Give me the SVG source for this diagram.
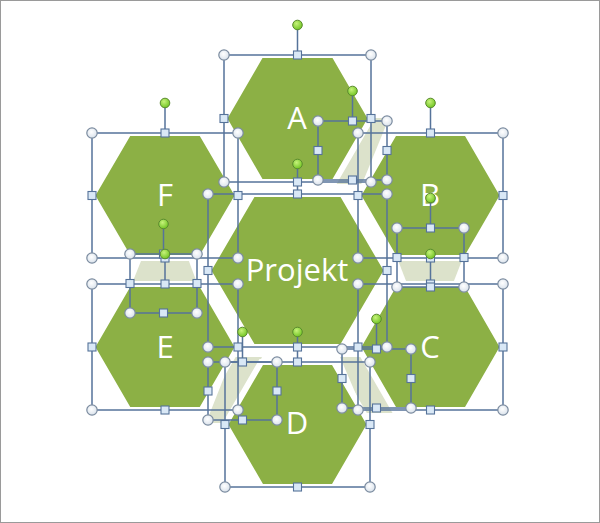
<svg xmlns="http://www.w3.org/2000/svg" xmlns:xlink="http://www.w3.org/1999/xlink" width="600" height="523" viewBox="0 0 600 523">
<defs>
<style>
.hex{fill:#8cb045;stroke:#ffffff;stroke-width:6;stroke-linejoin:miter}
.lite{fill:#dce2cb}
.lbl{font-family:"Open Sans","Noto Sans","DejaVu Sans",sans-serif;fill:#ffffff;text-anchor:middle}
.sel{fill:none;stroke:#56739a;stroke-width:1.5}
.rl{stroke:#56739a;stroke-width:1.5}
</style>
<radialGradient id="gc" cx="0.45" cy="0.4" r="0.7">
<stop offset="0" stop-color="#ffffff"/><stop offset="1" stop-color="#d3dde8"/>
</radialGradient>
<radialGradient id="gg" cx="0.4" cy="0.35" r="0.7">
<stop offset="0" stop-color="#c6f27a"/><stop offset="1" stop-color="#6cc21e"/>
</radialGradient>
<circle id="c" r="5.2" fill="url(#gc)" stroke="#7b8b9f" stroke-width="1.2"/>
<rect id="s" x="-4" y="-4" width="8" height="8" fill="#d9e8f6" stroke="#56739a" stroke-width="1.1"/>
<circle id="r" r="4.8" fill="url(#gg)" stroke="#5a8a2e" stroke-width="1"/>
</defs>
<rect x="0" y="0" width="600" height="523" fill="#ffffff"/>
<rect x="0.5" y="0.5" width="599" height="522" fill="none" stroke="#9a9a9a" stroke-width="1"/>

<g id="connectors">
<polygon class="lite" points="364,118 389,118 362,184 333,184"/>
<polygon class="lite" points="394,250 466,250 452,286 408,286"/>
<polygon class="lite" points="340,357 368,357 394,413 364,413"/>
<polygon class="lite" points="262,357 232,357 206,423 231,423"/>
<polygon class="lite" points="143,256 187,256 200,291 129,291"/>
</g>

<g id="node-A">
<polygon class="hex" points="224,118.5 260.75,55 334.25,55 371,118.5 334.25,182 260.75,182"/>
<text class="lbl" x="297" y="129" font-size="31">A</text>
</g>
<g id="node-B">
<polygon class="hex" points="358,195.5 394.25,133 466.75,133 503,195.5 466.75,258 394.25,258"/>
<text class="lbl" x="430" y="206" font-size="31">B</text>
</g>
<g id="node-C">
<polygon class="hex" points="358,347 394.25,284 466.75,284 503,347 466.75,410 394.25,410"/>
<text class="lbl" x="430" y="358" font-size="31">C</text>
</g>
<g id="node-D">
<polygon class="hex" points="225,424.5 261.25,362 333.75,362 370,424.5 333.75,487 261.25,487"/>
<text class="lbl" x="297" y="434" font-size="31">D</text>
</g>
<g id="node-E">
<polygon class="hex" points="92,347 128.5,284 201.5,284 238,347 201.5,410 128.5,410"/>
<text class="lbl" x="165" y="358" font-size="31">E</text>
</g>
<g id="node-F">
<polygon class="hex" points="92,195.5 128.5,133 201.5,133 238,195.5 201.5,258 128.5,258"/>
<text class="lbl" x="165" y="206" font-size="31">F</text>
</g>
<g id="node-Projekt">
<polygon class="hex" points="208,270.5 252.75,194 342.25,194 387,270.5 342.25,347 252.75,347"/>
<text class="lbl" x="297" y="281" font-size="31">Projekt</text>
</g>

<g id="selection">
<rect class="sel" x="224" y="55" width="147" height="127"/>
<rect class="sel" x="92" y="133" width="146" height="125"/>
<rect class="sel" x="358" y="133" width="145" height="125"/>
<rect class="sel" x="92" y="284" width="146" height="126"/>
<rect class="sel" x="358" y="284" width="145" height="126"/>
<rect class="sel" x="225" y="362" width="145" height="125"/>
<rect class="sel" x="208" y="194" width="179" height="153"/>
<rect class="sel" x="318" y="121" width="69" height="59"/>
<rect class="sel" x="397" y="228" width="67" height="59"/>
<rect class="sel" x="342" y="349" width="69" height="59"/>
<rect class="sel" x="208" y="362" width="69" height="58"/>
<rect class="sel" x="130" y="254" width="67" height="59"/>
<path class="rl" d="M297.5,25V55M165,103V133M430.5,103V133M165,254V284M430.5,254V284M297.5,332V362M297.5,164V194M352.5,91V121M430.5,198V228M376.5,319V349M242.5,332V362M163.5,224V254"/>

<use href="#c" x="224" y="55"/><use href="#c" x="371" y="55"/><use href="#c" x="224" y="182"/><use href="#c" x="371" y="182"/>
<use href="#s" x="297.5" y="55"/><use href="#s" x="297.5" y="182"/><use href="#s" x="224" y="118.5"/><use href="#s" x="371" y="118.5"/>

<use href="#c" x="92" y="133"/><use href="#c" x="238" y="133"/><use href="#c" x="92" y="258"/><use href="#c" x="238" y="258"/>
<use href="#s" x="165" y="133"/><use href="#s" x="165" y="258"/><use href="#s" x="92" y="195.5"/><use href="#s" x="238" y="195.5"/>

<use href="#c" x="358" y="133"/><use href="#c" x="503" y="133"/><use href="#c" x="358" y="258"/><use href="#c" x="503" y="258"/>
<use href="#s" x="430.5" y="133"/><use href="#s" x="430.5" y="258"/><use href="#s" x="358" y="195.5"/><use href="#s" x="503" y="195.5"/>

<use href="#c" x="92" y="284"/><use href="#c" x="238" y="284"/><use href="#c" x="92" y="410"/><use href="#c" x="238" y="410"/>
<use href="#s" x="165" y="284"/><use href="#s" x="165" y="410"/><use href="#s" x="92" y="347"/><use href="#s" x="238" y="347"/>

<use href="#c" x="358" y="284"/><use href="#c" x="503" y="284"/><use href="#c" x="358" y="410"/><use href="#c" x="503" y="410"/>
<use href="#s" x="430.5" y="284"/><use href="#s" x="430.5" y="410"/><use href="#s" x="358" y="347"/><use href="#s" x="503" y="347"/>

<use href="#c" x="225" y="362"/><use href="#c" x="370" y="362"/><use href="#c" x="225" y="487"/><use href="#c" x="370" y="487"/>
<use href="#s" x="297.5" y="362"/><use href="#s" x="297.5" y="487"/><use href="#s" x="225" y="424.5"/><use href="#s" x="370" y="424.5"/>

<use href="#c" x="208" y="194"/><use href="#c" x="387" y="194"/><use href="#c" x="208" y="347"/><use href="#c" x="387" y="347"/>
<use href="#s" x="297.5" y="194"/><use href="#s" x="297.5" y="347"/><use href="#s" x="208" y="270.5"/><use href="#s" x="387" y="270.5"/>

<use href="#c" x="318" y="121"/><use href="#c" x="387" y="121"/><use href="#c" x="318" y="180"/><use href="#c" x="387" y="180"/>
<use href="#s" x="352.5" y="121"/><use href="#s" x="352.5" y="180"/><use href="#s" x="318" y="150.5"/><use href="#s" x="387" y="150.5"/>

<use href="#c" x="397" y="228"/><use href="#c" x="464" y="228"/><use href="#c" x="397" y="287"/><use href="#c" x="464" y="287"/>
<use href="#s" x="430.5" y="228"/><use href="#s" x="430.5" y="287"/><use href="#s" x="397" y="257.5"/><use href="#s" x="464" y="257.5"/>

<use href="#c" x="342" y="349"/><use href="#c" x="411" y="349"/><use href="#c" x="342" y="408"/><use href="#c" x="411" y="408"/>
<use href="#s" x="376.5" y="349"/><use href="#s" x="376.5" y="408"/><use href="#s" x="342" y="378.5"/><use href="#s" x="411" y="378.5"/>

<use href="#c" x="208" y="362"/><use href="#c" x="277" y="362"/><use href="#c" x="208" y="420"/><use href="#c" x="277" y="420"/>
<use href="#s" x="242.5" y="362"/><use href="#s" x="242.5" y="420"/><use href="#s" x="208" y="391"/><use href="#s" x="277" y="391"/>

<use href="#c" x="130" y="254"/><use href="#c" x="197" y="254"/><use href="#c" x="130" y="313"/><use href="#c" x="197" y="313"/>
<use href="#s" x="163.5" y="254"/><use href="#s" x="163.5" y="313"/><use href="#s" x="130" y="283.5"/><use href="#s" x="197" y="283.5"/>

<use href="#r" x="297.5" y="25"/><use href="#r" x="165" y="103"/><use href="#r" x="430.5" y="103"/><use href="#r" x="165" y="254"/>
<use href="#r" x="430.5" y="254"/><use href="#r" x="297.5" y="332"/><use href="#r" x="297.5" y="164"/><use href="#r" x="352.5" y="91"/>
<use href="#r" x="430.5" y="198"/><use href="#r" x="376.5" y="319"/><use href="#r" x="242.5" y="332"/><use href="#r" x="163.5" y="224"/>
</g>
</svg>
